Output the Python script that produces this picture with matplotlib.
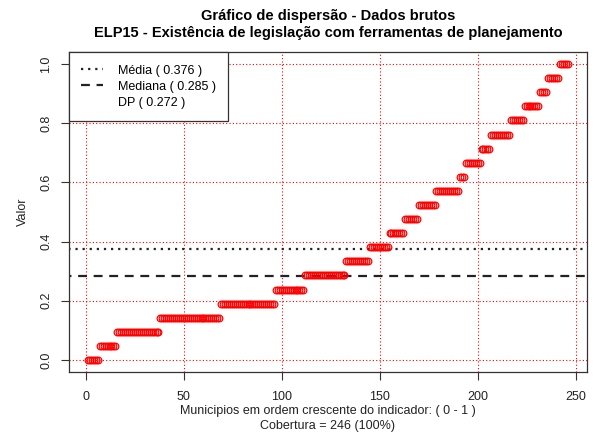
import matplotlib
matplotlib.use("Agg")
import matplotlib.pyplot as plt
import numpy as np

plt.rcParams['font.family'] = ['Liberation Sans', 'DejaVu Sans']

# niveis do indicador (k/21) e quantos municipios em cada um
niveis = [k / 21 for k in range(22)]
contagens = [6, 9, 22, 31, 28, 15, 21, 12, 10, 8, 7,
             9, 12, 3, 8, 5, 10, 7, 8, 4, 6, 5]

media = 0.376
mediana = 0.285
dp = 0.272

titulo1 = "Gráfico de dispersão - Dados brutos"
titulo2 = "ELP15 - Existência de legislação com ferramentas de planejamento"
xlab1 = "Municipios em ordem crescente do indicador: ( 0 - 1 )"
xlab2 = "Cobertura = 246 (100%)"

valores = np.repeat(niveis, contagens)
idx = np.arange(1, len(valores) + 1)

fig = plt.figure(figsize=(5.94, 4.38), dpi=100)
ax = fig.add_axes([0.1158, 0.1511, 0.988 - 0.1158, 0.8808 - 0.1511])

# grade vermelha pontilhada
for gx in [0, 50, 100, 150, 200, 250]:
    ax.axvline(gx, color="red", ls=(0, (1, 2)), lw=0.8, zorder=1)
for gy in [0, 0.2, 0.4, 0.6, 0.8, 1.0]:
    ax.axhline(gy, color="red", ls=(0, (1, 2)), lw=0.8, zorder=1)

ax.plot(idx, valores, "o", mfc="none", mec="red", ms=4.8, mew=0.9, zorder=3)

l1, = ax.plot([-20, 300], [media, media], color="#222222", ls=(0, (1, 2.2)), lw=1.6, zorder=2)
l2, = ax.plot([-20, 300], [mediana, mediana], color="#222222", ls=(0, (4, 3)), lw=1.6, zorder=2)
l3, = ax.plot([], [], color="none")

ax.set_xlim(-8.8, 255.8)
ax.set_ylim(-0.04, 1.04)
ax.set_xticks([0, 50, 100, 150, 200, 250])
ax.set_yticks([0, 0.2, 0.4, 0.6, 0.8, 1.0])
ax.set_yticklabels(["0.0", "0.2", "0.4", "0.6", "0.8", "1.0"], rotation=90, va="center")
ax.tick_params(direction="out", length=6, width=0.8, colors="#333333", labelsize=9, labelcolor="#222222")
ax.tick_params(axis="x", pad=8)
ax.tick_params(axis="y", pad=6)
for s in ax.spines.values():
    s.set_color("#333333")
    s.set_linewidth(0.9)

ax.set_ylabel("Valor", fontsize=9, color="#222222", labelpad=8)

leg = ax.legend([l1, l2, l3],
                ["Média ( %.3f )" % media, "Mediana ( %.3f )" % mediana, "DP ( %.3f )" % dp],
                loc="upper left", bbox_to_anchor=(0, 1), fontsize=9, fancybox=False,
                framealpha=1, edgecolor="#333333", borderaxespad=0, handlelength=1.7,
                borderpad=1.0, labelspacing=0.32, handletextpad=1.2)
leg.get_frame().set_linewidth(0.9)

fig.text(0.552, 0.963, titulo1, ha="center", va="center", fontsize=10.5, fontweight="bold")
fig.text(0.552, 0.925, titulo2, ha="center", va="center", fontsize=10.5, fontweight="bold")
fig.text(0.552, 0.062, xlab1, ha="center", va="center", fontsize=9, color="#222222")
fig.text(0.552, 0.028, xlab2, ha="center", va="center", fontsize=9, color="#222222")

fig.savefig("out.png", dpi=100)
